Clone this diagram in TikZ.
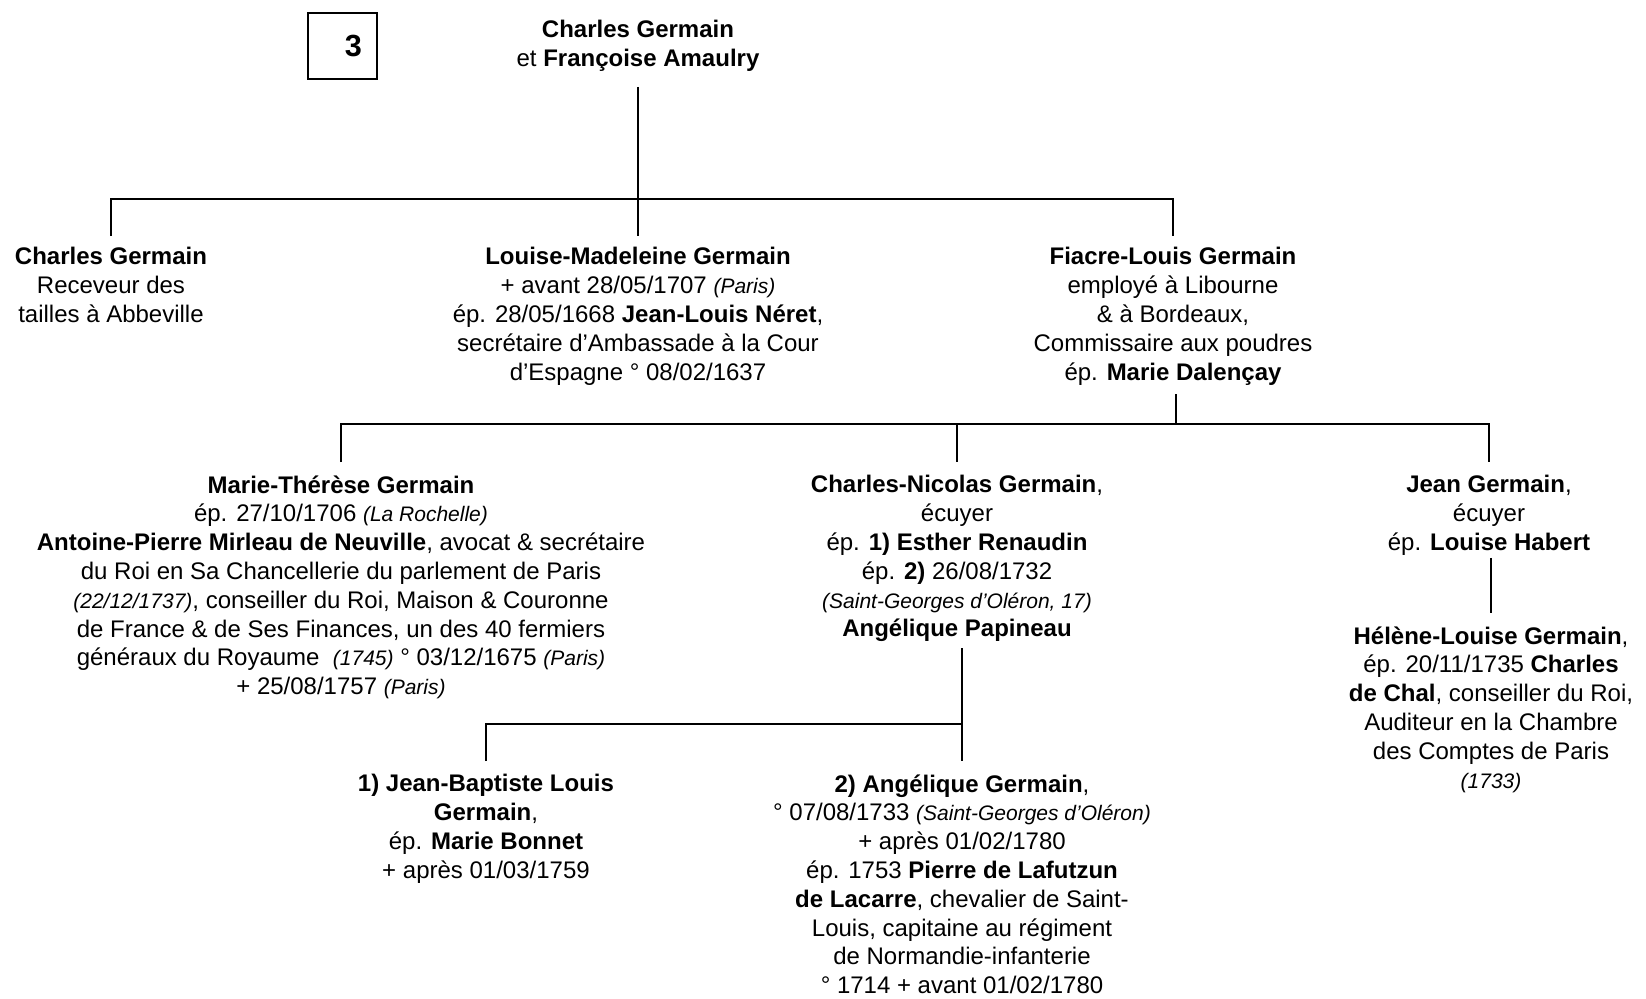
\documentclass[tikz,border=0pt]{standalone}
\usepackage{fontspec}
\setmainfont{Liberation Sans}
\usepackage{tikz}
\newcommand{\lieu}[1]{{\fontsize{10.5pt}{14.45pt}\selectfont\itshape #1}}

\begin{document}
\begin{tikzpicture}[x=0.5pt, y=-0.5pt,
		personne/.style={align=center, inner sep=0pt, anchor=north, font=\fontsize{12pt}{14.4pt}\selectfont},
		lien/.style={line width=1.2pt},
		numero/.style={draw, line width=0.8pt, minimum width=34.5pt, minimum height=33pt, inner sep=0pt, font=\fontsize{15.3pt}{18pt}\selectfont\bfseries}]
		\useasboundingbox (0,0) rectangle (1646,998);
		\node[numero] (num) at (342.5,46) {\hspace*{11pt}3};
		\node[personne] (root) at (638,20) {\textbf{Charles Germain}\\ et \textbf{Françoise Amaulry}};
		% premiere generation
		\node[personne] (cg) at (111,247) {\textbf{Charles Germain}\\ Receveur des\\ tailles à Abbeville};
		\node[personne] (lmg) at (638,247) {\textbf{Louise-Madeleine Germain}\\ + avant 28/05/1707 \lieu{(Paris)}\\ ép. 28/05/1668 \textbf{Jean-Louis Néret},\\ secrétaire d’Ambassade à la Cour\\ d’Espagne ° 08/02/1637};
		\node[personne] (flg) at (1173,247) {\textbf{Fiacre-Louis Germain}\\ employé à Libourne\\ \& à Bordeaux,\\ Commissaire aux poudres\\ ép. \textbf{Marie Dalençay}};
		% deuxieme generation
		\node[personne] (mtg) at (341,475) {\textbf{Marie-Thérèse Germain}\\ ép. 27/10/1706 \lieu{(La Rochelle)}\\ \textbf{Antoine-Pierre Mirleau de Neuville}, avocat \& secrétaire\\ du Roi en Sa Chancellerie du parlement de Paris\\ \lieu{(22/12/1737)}, conseiller du Roi, Maison \& Couronne\\ de France \& de Ses Finances, un des 40 fermiers\\ généraux du Royaume \ \lieu{(1745)} ° 03/12/1675 \lieu{(Paris)}\\ + 25/08/1757 \lieu{(Paris)}};
		\node[personne] (cng) at (957,475) {\textbf{Charles-Nicolas Germain},\\ écuyer\\ ép. \textbf{1) Esther Renaudin}\\ ép. \textbf{2)} 26/08/1732\\ \lieu{(Saint-Georges d’Oléron, 17)}\\ \textbf{Angélique Papineau}};
		\node[personne] (jg) at (1489,475) {\textbf{Jean Germain},\\ écuyer\\ ép. \textbf{Louise Habert}};
		\node[personne] (hlg) at (1491,626) {\textbf{Hélène-Louise Germain},\\ ép. 20/11/1735 \textbf{Charles}\\ \textbf{de Chal}, conseiller du Roi,\\ Auditeur en la Chambre\\ des Comptes de Paris\\ \lieu{(1733)}};
		% troisieme generation
		\node[personne] (jbl) at (486,774) {\textbf{1) Jean-Baptiste Louis}\\ \textbf{Germain},\\ ép. \textbf{Marie Bonnet}\\ + après 01/03/1759};
		\node[personne] (ag) at (962,774) {\textbf{2) Angélique Germain},\\ ° 07/08/1733 \lieu{(Saint-Georges d’Oléron)}\\ + après 01/02/1780\\ ép. 1753 \textbf{Pierre de Lafutzun}\\ \textbf{de Lacarre}, chevalier de Saint-\\ Louis, capitaine au régiment\\ de Normandie-infanterie\\ ° 1714 + avant 01/02/1780};
		% traits
		\coordinate (bar1) at (638,199);
		\coordinate (bar2) at (1176,424);
		\coordinate (bar3) at (962,724);
		\draw[lien] (root.south) ++(0,15) -- (bar1);
		\draw[lien] ([yshift=5.5pt]cg.north) |- (bar1) -| ([yshift=5.5pt]flg.north);
		\draw[lien] (bar1) -- ([yshift=5.5pt]lmg.north);
		\draw[lien] (flg.south -| bar2) ++(0,9) -- (bar2);
		\draw[lien] ([yshift=6.5pt]mtg.north) |- (bar2) -| ([yshift=6.5pt]jg.north);
		\draw[lien] (bar2 -| cng.north) -- ([yshift=6.5pt]cng.north);
		\draw[lien] (jg.south -| hlg.north) ++(0,2) -- ([yshift=6.5pt]hlg.north);
		\draw[lien] (cng.south -| bar3) ++(0,6) -- (bar3);
		\draw[lien] ([yshift=6.5pt]jbl.north) |- (bar3) -| ([yshift=6.5pt]ag.north);
	\end{tikzpicture}
\end{document}
